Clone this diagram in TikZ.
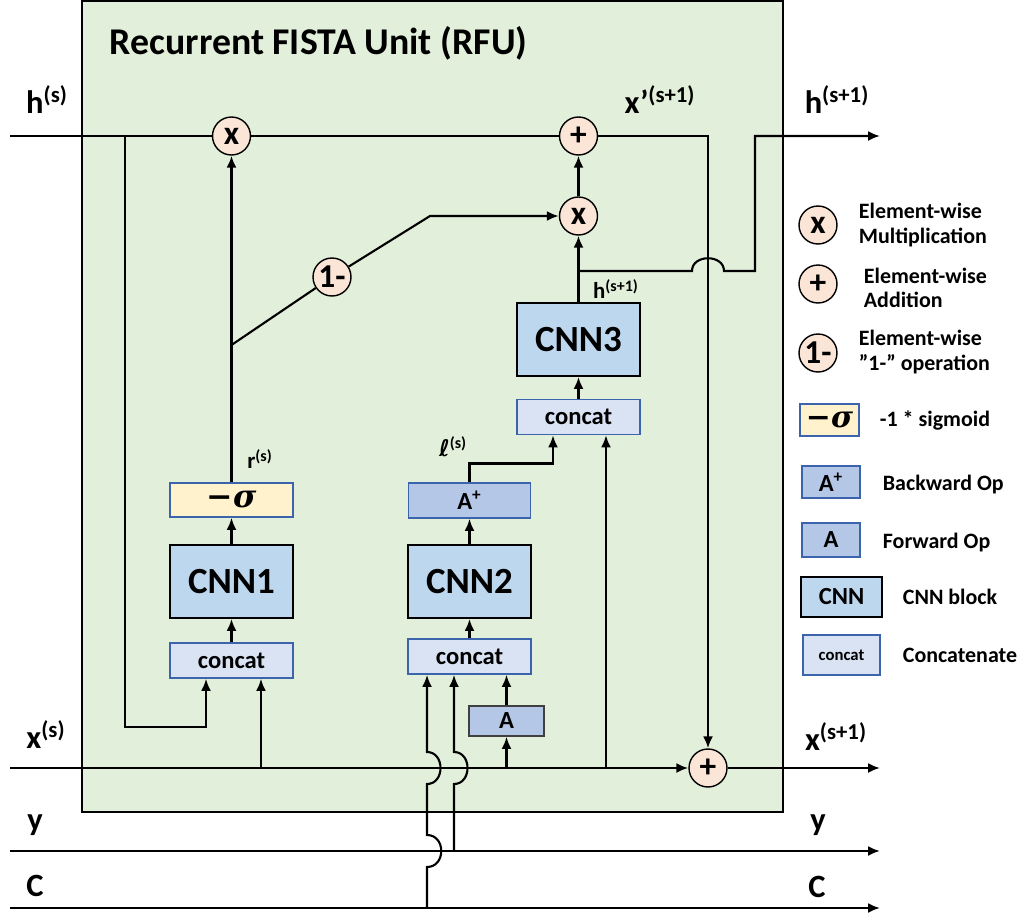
\documentclass[tikz,border=0pt]{standalone}
\usepackage{fontspec}
\setmainfont{Carlito}
\newfontfamily\sigfont{DejaVu Serif}
\newfontfamily\ellfont{DejaVu Sans}
\usetikzlibrary{calc,arrows.meta}

\definecolor{rfugreen}{RGB}{226,239,218}
\definecolor{opfill}{RGB}{251,229,214}
\definecolor{cnnfill}{RGB}{189,215,238}
\definecolor{catfill}{RGB}{218,227,243}
\definecolor{afill}{RGB}{180,199,231}
\definecolor{sigfill}{RGB}{255,242,204}
\definecolor{boxblue}{RGB}{59,100,173}

\begin{document}
\begin{tikzpicture}[x=0.02cm, y=-0.02cm, >={Latex[length=0.24cm,width=0.2cm]}, line width=1.2pt,
  every node/.style={font=\bfseries},
  opcirc/.style={circle, draw, line width=0.8pt, fill=opfill, minimum size=0.76cm, inner sep=0pt, font=\bfseries\fontsize{19}{19}\selectfont},
  cnnbox/.style={rectangle, draw, line width=1.1pt, fill=cnnfill, minimum width=2.46cm, minimum height=1.46cm, font=\bfseries\fontsize{21}{21}\selectfont},
  catbox/.style={rectangle, draw=boxblue, line width=1pt, fill=catfill, minimum width=2.46cm, minimum height=0.7cm, font=\bfseries\fontsize{14}{14}\selectfont},
  abox/.style={rectangle, draw=boxblue, line width=1pt, fill=afill, minimum width=2.44cm, minimum height=0.7cm, font=\bfseries\fontsize{14}{14}\selectfont},
  sigbox/.style={rectangle, draw=boxblue, line width=1pt, fill=sigfill, minimum width=2.46cm, minimum height=0.68cm, font=\sigfont\bfseries\fontsize{18}{18}\selectfont},
  lbl/.style={font=\bfseries\fontsize{18.5}{18.5}\selectfont},
  smalllbl/.style={font=\bfseries\fontsize{13}{13}\selectfont},
  legend/.style={anchor=west, align=left, font=\bfseries\fontsize{12.5}{14}\selectfont}
]
  \useasboundingbox (0,0) rectangle (1018,916);

  % RFU BOX
  \draw[fill=rfugreen, line width=0.9pt] (82,1) rectangle (783,812);
  \node[anchor=west, font=\bfseries\fontsize{21.5}{21.5}\selectfont] (title) at (103,43) {Recurrent FISTA Unit (RFU)};

  % STREAMS
  \coordinate (hin)  at (10,136);
  \coordinate (hout) at (880,136);
  \coordinate (xin)  at (10,768);
  \coordinate (xout) at (880,768);
  \coordinate (yin)  at (10,851);
  \coordinate (yout) at (880,851);
  \coordinate (cin)  at (10,908);
  \coordinate (cout) at (880,908);

  % OPERATIONS
  \node[opcirc] (mulh) at (231.5,136) {x};
  \node[opcirc] (addh) at (578.5,136) {+};
  \node[opcirc] (mulz) at (578.5,216) {x};
  \node[opcirc] (onem) at (332,277) {1-};
  \node[opcirc] (addx) at (708,768) {+};

  % BLOCKS
  \node[sigbox] (sig)  at (231.5,500)   {−\itshape σ};
  \node[cnnbox] (cnn1) at (231.5,581.5) {CNN1};
  \node[catbox] (cat1) at (231.5,660.5) {concat};
  \node[abox]   (adj)  at (469.5,500.5) {A\textsuperscript{+}};
  \node[cnnbox] (cnn2) at (469.5,581.5) {CNN2};
  \node[catbox] (cat2) at (469.5,656.5) {concat};
  \node[abox, minimum width=1.5cm, minimum height=0.6cm, draw=black!75] (fwd) at (506.5,721) {A};
  \node[cnnbox] (cnn3) at (578.5,339.5) {CNN3};
  \node[catbox] (cat3) at (578.5,417)   {concat};

  % h PATH
  \draw (hin) -- (mulh);
  \draw (mulh) -- (addh);
  \draw[->] (addh) -| (addx);
  \coordinate (hsplit) at (125,136);
  \coordinate (c1a) at ([xshift=-0.51cm]cat1.south);
  \coordinate (c1b) at ([xshift=0.59cm]cat1.south);
  \draw[->] (hsplit) -- ++(0,591) -| (c1a);
  \draw[->] (c1b |- xin) -- (c1b);

  % r PATH
  \draw[->] (cat1) -- (cnn1);
  \draw[->] (cnn1) -- (sig);
  \draw[->] (sig) -- (mulh);
  \coordinate (rsplit) at (231.5,345);
  \coordinate (rbend) at (430,216);
  \draw (rsplit) -- (onem);
  \draw[->] (onem) -- (rbend) -- (mulz);

  % l PATH
  \coordinate (c2a) at ([xshift=-0.85cm]cat2.south);
  \coordinate (c2b) at ([xshift=-0.31cm]cat2.south);
  \coordinate (c3a) at ([xshift=-0.51cm]cat3.south);
  \coordinate (c3b) at ([xshift=0.55cm]cat3.south);
  \draw[->] (cat2) -- (cnn2);
  \draw[->] (cnn2) -- (adj);
  \draw[->] (fwd) -- (fwd |- cat2.south);
  \draw[->] (fwd.south |- xin) -- (fwd);
  \draw[->] (adj) -- ++(0,-37) -| (c3a);
  \draw[->] (c3b |- xin) -- (c3b);
  \draw[->] (cat3) -- (cnn3);
  \draw[->] (cnn3) -- (mulz);
  \draw[->] (mulz) -- (addh);

  % h^(s+1) OUT, hop over x'
  \coordinate (hsplit2) at (578.5,271);
  \coordinate (hturn) at (755,136);
  \draw[->] (hsplit2) -- ($(addx |- hsplit2)+(-16,0)$)
    .. controls +(0,-17) and +(0,-17) .. ($(addx |- hsplit2)+(16,0)$) -| (hturn) -- (hout);

  % x, y, C LINES
  \draw[->] (xin) -- (addx);
  \draw[->] (addx) -- (xout);
  \draw[->] (yin) -- (yout);
  \draw[->] (cin) -- (cout);

  % y and C into concat, with hops
  \draw[->] (c2b |- yin) -- ($(c2b |- xin)+(0,16)$)
    .. controls +(18,0) and +(18,0) .. ($(c2b |- xin)+(0,-16)$) -- (c2b);
  \draw[->] (c2a |- cin) -- ($(c2a |- yin)+(0,16)$)
    .. controls +(19,0) and +(19,0) .. ($(c2a |- yin)+(0,-16)$) -- ($(c2a |- xin)+(0,16)$)
    .. controls +(18,0) and +(18,0) .. ($(c2a |- xin)+(0,-16)$) -- (c2a);

  % LABELS
  \node[lbl] (hinlbl)  at (47,100)  {h\textsuperscript{(s)}};
  \node[lbl] (xplbl)   at (660,100) {x’\textsuperscript{(s+1)}};
  \node[lbl] (houtlbl) at (837,100) {h\textsuperscript{(s+1)}};
  \node[lbl] (xinlbl)  at (46,735)  {x\textsuperscript{(s)}};
  \node[lbl] (xoutlbl) at (836,737) {x\textsuperscript{(s+1)}};
  \node[lbl] (yinlbl)  at (35,825)  {y};
  \node[lbl] (youtlbl) at (818,825) {y};
  \node[lbl] (cinlbl)  at (35,886)  {C};
  \node[lbl] (coutlbl) at (817,887) {C};
  \node[smalllbl] (hnewlbl) at (616,289) {h\textsuperscript{(s+1)}};
  \node[smalllbl] (rlbl)    at (260,459) {r\textsuperscript{(s)}};
  \node[smalllbl] (llbl)    at (453,447) {{\ellfont ℓ}\textsuperscript{(s)}};

  % LEGEND
  \node[opcirc] (lmul) at (818,225) {x};
  \node[legend] (lmultxt) at (852,225) {Element-wise\\Multiplication};
  \node[opcirc] (ladd) at (818,284) {+};
  \node[legend] (laddtxt) at (857,288) {Element-wise\\Addition};
  \node[opcirc] (lone) at (818,353) {1-};
  \node[legend] (lonetxt) at (852,352) {Element-wise\\”1-” operation};
  \node[sigbox, minimum width=1.14cm, minimum height=0.64cm, font=\sigfont\bfseries\fontsize{17}{17}\selectfont] (lsig) at (829.5,420) {−\itshape σ};
  \node[legend] (lsigtxt) at (873,421) {-1 * sigmoid};
  \node[abox, minimum width=1.16cm, minimum height=0.64cm] (ladj) at (831,482) {A\textsuperscript{+}};
  \node[legend] (ladjtxt) at (876,485) {Backward Op};
  \node[abox, minimum width=1.16cm, minimum height=0.68cm] (lfwd) at (831,540) {A};
  \node[legend] (lfwdtxt) at (876,543) {Forward Op};
  \node[cnnbox, minimum width=1.62cm, minimum height=0.8cm, font=\bfseries\fontsize{14}{14}\selectfont] (lcnn) at (841.5,597) {CNN};
  \node[legend] (lcnntxt) at (896,597) {CNN block};
  \node[catbox, minimum width=1.54cm, minimum height=0.8cm, font=\bfseries\fontsize{9.5}{9.5}\selectfont] (lcat) at (841.5,655) {concat};
  \node[legend] (lcattxt) at (896,655) {Concatenate};

\end{tikzpicture}
\end{document}
